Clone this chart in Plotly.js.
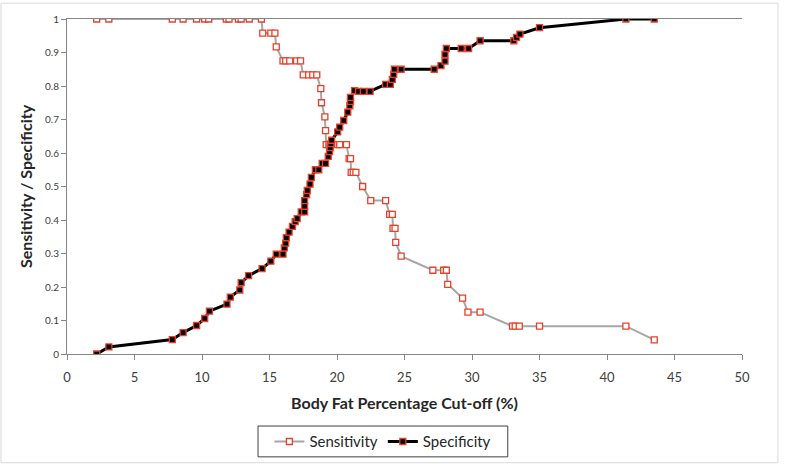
<!DOCTYPE html>
<html>
<head>
<meta charset="utf-8">
<script src="https://cdn.plot.ly/plotly-3.0.1.min.js"></script>
<style>
  html, body { margin: 0; padding: 0; background: #ffffff; }
  #chart { width: 789px; height: 470px; }
</style>
</head>
<body>
<div id="chart"></div>
<script>
// Sensitivity series (cut-off %, value)
const sensX = [2.2, 3.1, 7.8, 8.6, 9.6, 10.2, 10.5, 11.8, 12.0, 12.7, 12.9, 13.5, 14.4,
  14.5, 15.1, 15.4, 15.5,
  16.0, 16.2, 16.5, 17.0, 17.3,
  17.5, 17.9, 18.2, 18.5,
  18.8, 18.85, 19.1, 19.15,
  19.2, 19.4, 19.5, 20.05, 20.2, 20.7,
  20.9, 21.0, 21.05, 21.2, 21.4,
  21.9, 22.5, 23.6, 23.9, 24.1, 24.15, 24.3, 24.35, 24.75,
  27.1, 27.9, 28.1, 28.2, 29.3, 29.7, 30.6,
  33.0, 33.2, 33.5, 35.0, 41.4, 43.5];
const sensY = [1, 1, 1, 1, 1, 1, 1, 1, 1, 1, 1, 1, 1,
  0.958, 0.958, 0.958, 0.917,
  0.875, 0.875, 0.875, 0.875, 0.875,
  0.833, 0.833, 0.833, 0.833,
  0.792, 0.75, 0.708, 0.667,
  0.625, 0.625, 0.625, 0.625, 0.625, 0.625,
  0.583, 0.583, 0.542, 0.542, 0.542,
  0.5, 0.458, 0.458, 0.417, 0.417, 0.375, 0.375, 0.333, 0.292,
  0.25, 0.25, 0.25, 0.208, 0.167, 0.125, 0.125,
  0.083, 0.083, 0.083, 0.083, 0.083, 0.042];

// Specificity series (cut-off %, value)
const specX = [2.2, 3.1, 7.8, 8.6, 9.6, 10.2, 10.55, 11.85, 12.1, 12.8, 12.9, 13.45, 14.45,
  15.1, 15.5, 16.0, 16.1, 16.2, 16.25, 16.45, 16.7, 16.9, 17.05, 17.35, 17.6, 17.6, 17.6,
  17.75, 17.8, 18.0, 18.1, 18.4, 18.65, 18.9, 19.15, 19.35, 19.45, 19.5, 19.55, 19.6,
  20.05, 20.2, 20.5, 20.8, 20.95, 21.0, 21.0, 21.3, 21.6, 21.95, 22.45,
  23.6, 23.95, 24.1, 24.2, 24.25, 24.75, 27.2, 27.7, 28.0, 28.0, 28.1,
  29.2, 29.75, 30.6, 33.1, 33.3, 33.55, 35.0, 41.4, 43.5];
const specY = [0, 0.021, 0.043, 0.064, 0.085, 0.106, 0.128, 0.149, 0.170, 0.191, 0.213, 0.234, 0.255,
  0.277, 0.298, 0.298, 0.317, 0.331, 0.347, 0.364, 0.381, 0.395, 0.404, 0.424, 0.424, 0.441, 0.458,
  0.476, 0.488, 0.507, 0.527, 0.550, 0.550, 0.569, 0.569, 0.590, 0.604, 0.616, 0.628, 0.638,
  0.663, 0.677, 0.697, 0.722, 0.741, 0.754, 0.766, 0.786, 0.784, 0.784, 0.784,
  0.805, 0.805, 0.820, 0.835, 0.850, 0.850, 0.850, 0.861, 0.874, 0.894, 0.912,
  0.912, 0.912, 0.935, 0.935, 0.945, 0.955, 0.974, 1, 1];

const xTicks = [0, 5, 10, 15, 20, 25, 30, 35, 40, 45, 50];
const yTicks = [0, 0.1, 0.2, 0.3, 0.4, 0.5, 0.6, 0.7, 0.8, 0.9, 1];
const yTickText = ['0', '0.1', '0.2', '0.3', '0.4', '0.5', '0.6', '0.7', '0.8', '0.9', '1'];

const FONT = 'Lato, "Liberation Sans", sans-serif';
const RED = '#e8402a';

const traces = [
  {
    x: sensX, y: sensY, name: 'Sensitivity', type: 'scatter', mode: 'lines+markers',
    line: { color: '#a6a6a6', width: 2 },
    marker: { symbol: 'square', size: 6, color: '#ffffff', line: { color: RED, width: 1.3 } }
  },
  {
    x: specX, y: specY, name: 'Specificity', type: 'scatter', mode: 'lines+markers',
    line: { color: '#000000', width: 3 },
    marker: { symbol: 'square', size: 6, color: '#000000', line: { color: RED, width: 1.3 } }
  }
];

const layout = {
  width: 789, height: 470,
  margin: { l: 67, r: 47, t: 19, b: 112 },
  paper_bgcolor: '#ffffff', plot_bgcolor: '#ffffff',
  font: { family: FONT, color: '#404040', size: 12 },
  showlegend: true,
  legend: {
    orientation: 'h', x: 0.468, xanchor: 'center', y: -0.262, yanchor: 'middle',
    borderwidth: 0, bgcolor: 'rgba(0,0,0,0)',
    font: { family: FONT, size: 15, color: '#262626' },
    itemwidth: 30, tracegroupgap: 0
  },
  xaxis: {
    range: [0, 50], tickvals: xTicks, ticktext: xTicks.map(String),
    showgrid: false, zeroline: false, showline: true, linecolor: '#868686', linewidth: 1,
    mirror: true,
    ticks: 'outside', ticklen: 5, tickcolor: '#868686',
    ticklabelstandoff: 6,
    tickfont: { family: FONT, size: 13, color: '#404040' },
    title: { text: 'Body Fat Percentage Cut-off (%)', font: { family: FONT, size: 16, color: '#262626', weight: 'bold' }, standoff: 14 }
  },
  yaxis: {
    range: [0, 1], tickvals: yTicks, ticktext: yTickText,
    showgrid: false, zeroline: false, showline: true, linecolor: '#868686', linewidth: 1,
    ticks: 'outside', ticklen: 5, tickcolor: '#868686',
    tickfont: { family: FONT, size: 10, color: '#404040' },
    title: { text: 'Sensitivity / Specificity', font: { family: FONT, size: 16, color: '#262626', weight: 'bold' }, standoff: 8 }
  },
  shapes: [
    { type: 'rect', xref: 'paper', yref: 'paper',
      x0: -0.0978, x1: 1.0533, y0: -0.3245, y1: 1.0472,
      line: { color: '#d9d9d9', width: 1 }, fillcolor: 'rgba(0,0,0,0)', layer: 'below' },
    { type: 'rect', xref: 'paper', yref: 'paper',
      x0: 0.283, x1: 0.653, y0: -0.307, y1: -0.215,
      line: { color: '#404040', width: 1 }, fillcolor: 'rgba(0,0,0,0)', layer: 'below' }
  ]
};

Plotly.newPlot('chart', traces, layout, { displayModeBar: false, staticPlot: true });
</script>
</body>
</html>
